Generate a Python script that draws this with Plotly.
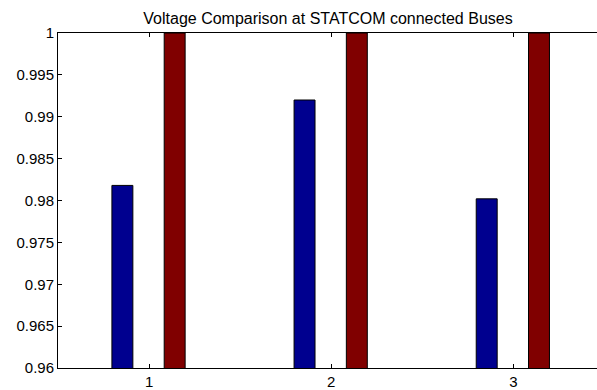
import plotly.graph_objects as go

buses = [1, 2, 3]
voltage_before = [0.9818, 0.9920, 0.9802]
voltage_after = [1.0, 1.0, 1.0]
ytick_vals = [0.96, 0.965, 0.97, 0.975, 0.98, 0.985, 0.99, 0.995, 1.0]
ytick_text = ["0.96", "0.965", "0.97", "0.975", "0.98", "0.985", "0.99", "0.995", "1"]
title_text = "Voltage Comparison at STATCOM connected Buses"

fig = go.Figure()
fig.add_trace(go.Bar(x=buses, y=voltage_before, width=0.115, offset=-0.204,
                     marker=dict(color="#00008F", line=dict(color="black", width=1))))
fig.add_trace(go.Bar(x=buses, y=voltage_after, width=0.115, offset=0.083,
                     marker=dict(color="#800000", line=dict(color="black", width=1))))

font = "Liberation Sans, Arial, sans-serif"
fig.update_layout(
    width=597, height=390,
    margin=dict(l=58, r=0, t=33, b=19),
    paper_bgcolor="white", plot_bgcolor="white",
    barmode="overlay", showlegend=False,
    title=dict(text=title_text, x=328 / 597, xanchor="center",
               y=1 - 18 / 390, yanchor="middle",
               font=dict(family=font, size=16, color="black")),
    font=dict(family=font, size=15, color="black"),
)
fig.update_xaxes(range=[0.5, 3.459], tickvals=buses, ticktext=[str(b) for b in buses],
                 ticks="inside", ticklen=4, tickcolor="black", showline=True,
                 linecolor="black", linewidth=1, mirror="ticks", showgrid=False,
                 zeroline=False, tickfont=dict(family=font, size=15, color="black"))
fig.update_yaxes(range=[0.96, 1.0], tickvals=ytick_vals, ticktext=ytick_text,
                 ticks="inside", ticklen=4, tickcolor="black", showline=True,
                 linecolor="black", linewidth=1, mirror=False, showgrid=False,
                 zeroline=False, tickfont=dict(family=font, size=15, color="black"))

fig.write_html("out.html")
